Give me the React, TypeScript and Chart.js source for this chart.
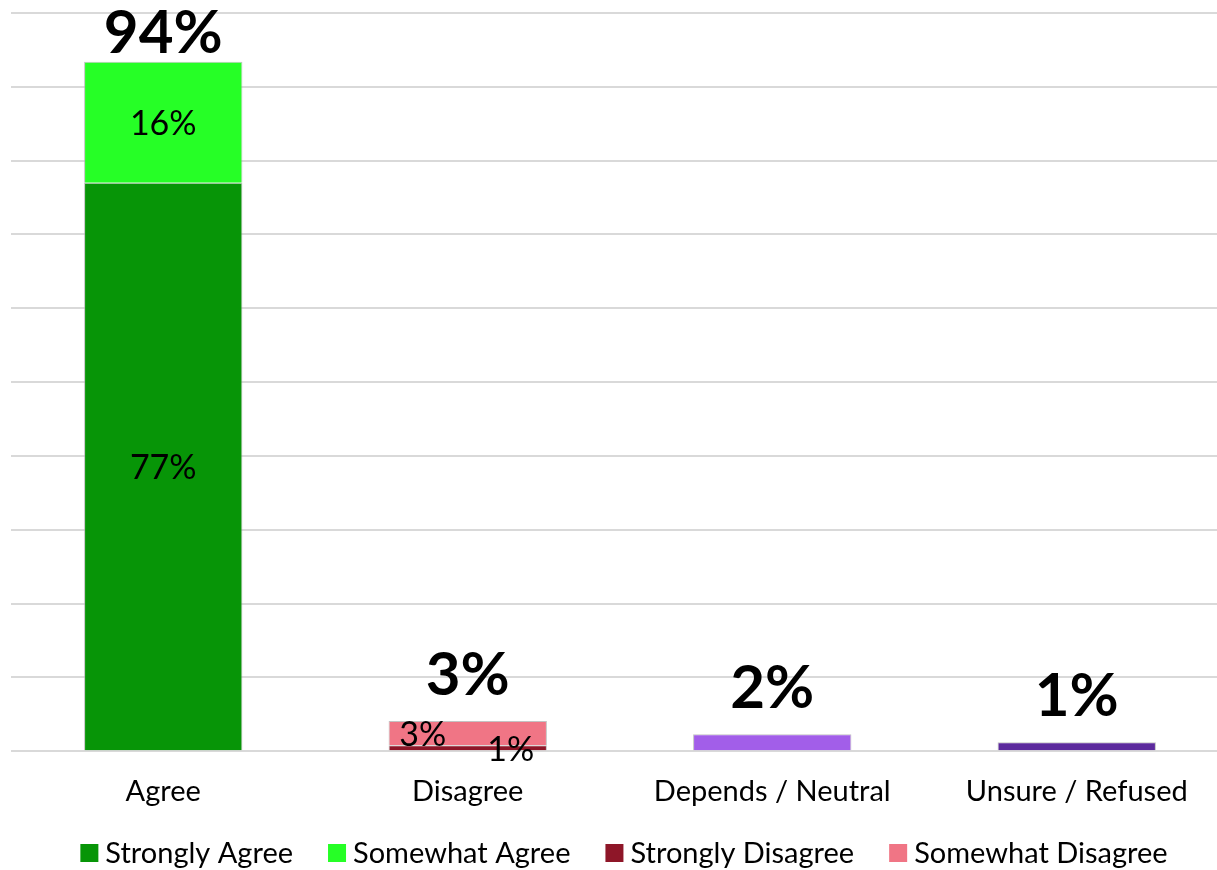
import React, { useEffect, useRef } from "react";
import { Chart, registerables } from "chart.js";

Chart.register(...registerables);

const categories = ["Agree", "Disagree", "Depends / Neutral", "Unsure / Refused"];
const stronglyAgree = [77, null, null, null];
const somewhatAgree = [16.4, null, null, null];
const stronglyDisagree = [null, 0.8, null, null];
const somewhatDisagree = [null, 3.3, null, null];
const dependsNeutral = [null, null, 2.3, null];
const unsureRefused = [null, null, null, 1.2];
const totalLabels = ["94%", "3%", "2%", "1%"];
const stronglyAgreeLabels = ["77%", null, null, null];
const somewhatAgreeLabels = ["16%", null, null, null];
const stronglyDisagreeLabels = [null, "1%", null, null];
const somewhatDisagreeLabels = [null, "3%", null, null];

const FONT = "Lato, 'Noto Sans', sans-serif";

export default function App() {
  const ref = useRef<HTMLCanvasElement | null>(null);
  useEffect(() => {
    if (!ref.current) return;
    const segLabels: Record<number, { labels: (string | null)[]; dx: number }> = {
      0: { labels: stronglyAgreeLabels, dx: 0 },
      1: { labels: somewhatAgreeLabels, dx: 0 },
      2: { labels: stronglyDisagreeLabels, dx: 43 },
      3: { labels: somewhatDisagreeLabels, dx: -45 },
    };
    const labelPlugin = {
      id: "labels",
      afterDatasetsDraw(chart: any) {
        const ctx = chart.ctx;
        ctx.save();
        ctx.fillStyle = "#000";
        ctx.textAlign = "center";
        ctx.font = `34px ${FONT}`;
        ctx.textBaseline = "middle";
        Object.keys(segLabels).forEach((k) => {
          const di = Number(k);
          const meta = chart.getDatasetMeta(di);
          const { labels, dx } = segLabels[di];
          meta.data.forEach((el: any, i: number) => {
            const t = labels[i];
            if (!t) return;
            const cy = (el.y + el.base) / 2;
            ctx.fillText(t, el.x + dx, cy + 2);
          });
        });
        ctx.font = `bold 60px ${FONT}`;
        ctx.textBaseline = "alphabetic";
        categories.forEach((_, i) => {
          let top = Infinity;
          let x = 0;
          chart.data.datasets.forEach((ds: any, di: number) => {
            if (ds.data[i] == null) return;
            const el = chart.getDatasetMeta(di).data[i];
            if (el && el.y < top) {
              top = el.y;
              x = el.x;
            }
          });
          if (top === Infinity) return;
          const baseline = Math.max(top - 26, 53);
          ctx.fillText(totalLabels[i], x, baseline);
        });
        ctx.restore();
      },
      afterDraw(chart: any) {
        const ctx = chart.ctx;
        ctx.save();
        ctx.font = `29px ${FONT}`;
        ctx.textBaseline = "middle";
        ctx.textAlign = "left";
        const items = chart.data.datasets.slice(0, 4);
        const box = 18;
        const textGap = 7;
        const itemGap = 35;
        const widths = items.map((d: any) => box + textGap + ctx.measureText(d.label).width);
        const total = widths.reduce((a: number, b: number) => a + b, 0) + itemGap * (items.length - 1);
        let x = 624 - total / 2;
        const y = 853;
        items.forEach((d: any, i: number) => {
          ctx.fillStyle = d.backgroundColor;
          ctx.fillRect(x, y - box / 2, box, box);
          ctx.fillStyle = "#000";
          ctx.fillText(d.label, x + box + textGap, y + 1);
          x += widths[i] + itemGap;
        });
        ctx.restore();
      },
    };
    const border = "rgba(170,170,170,0.7)";
    const chart = new Chart(ref.current, {
      type: "bar",
      data: {
        labels: categories,
        datasets: [
          { label: "Strongly Agree", data: stronglyAgree, backgroundColor: "#079507", borderColor: border, borderWidth: 1 },
          { label: "Somewhat Agree", data: somewhatAgree, backgroundColor: "#26ff26", borderColor: border, borderWidth: 1 },
          { label: "Strongly Disagree", data: stronglyDisagree, backgroundColor: "#8e1628", borderColor: border, borderWidth: 1 },
          { label: "Somewhat Disagree", data: somewhatDisagree, backgroundColor: "#f07585", borderColor: border, borderWidth: 1 },
          { label: "Depends / Neutral", data: dependsNeutral, backgroundColor: "#a25ee9", borderColor: border, borderWidth: 1 },
          { label: "Unsure / Refused", data: unsureRefused, backgroundColor: "#5c2a9d", borderColor: border, borderWidth: 1 },
        ] as any,
      },
      options: {
        responsive: false,
        animation: false,
        devicePixelRatio: 1,
        layout: { padding: { top: 13, left: 11, right: 3, bottom: 46 } },
        datasets: { bar: { categoryPercentage: 0.52, barPercentage: 1, skipNull: true } } as any,
        scales: {
          x: {
            stacked: true,
            grid: { display: false },
            border: { display: false },
            ticks: { color: "#000", font: { family: FONT, size: 29 }, padding: 15 },
          },
          y: {
            stacked: true,
            min: 0,
            max: 100,
            ticks: { display: false, stepSize: 10 },
            grid: { color: "#d9d9d9", lineWidth: 2, drawTicks: false },
            border: { display: false },
          },
        },
        plugins: {
          tooltip: { enabled: false },
          legend: { display: false },
        },
      },
      plugins: [labelPlugin],
    });
    return () => chart.destroy();
  }, []);
  return (
    <div style={{ position: "absolute", left: 0, top: 0, width: 1217, height: 870, overflow: "hidden", background: "#fff" }}>
      <canvas ref={ref} width={1232} height={870} style={{ display: "block" }} />
    </div>
  );
}
